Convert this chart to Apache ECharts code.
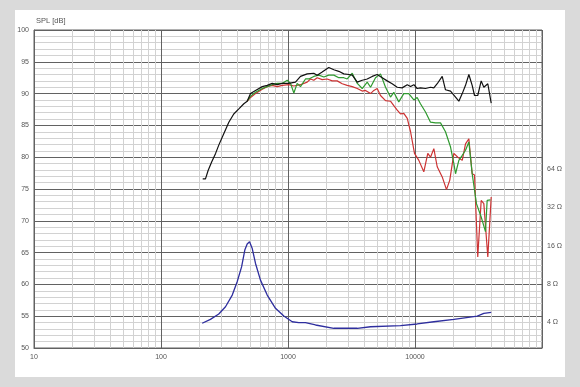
<!DOCTYPE html>
<html><head><meta charset="utf-8">
<script src="https://cdn.jsdelivr.net/npm/echarts@6/dist/echarts.min.js"></script>
<style>
html,body{margin:0;padding:0;background:#dadada;width:580px;height:387px;overflow:hidden;}
#panel{position:absolute;left:15px;top:10px;width:550px;height:367px;background:#fff;}
#chart{position:absolute;left:0;top:0;width:580px;height:387px;}
</style></head><body>
<div id="panel"></div><div id="chart"></div>
<script>
// ---- data ----
const freqLabels = [10, 100, 1000, 10000];
const minorFreqs = [];
[10, 100, 1000, 10000].forEach(d => { for (let k = 2; k <= 9; k++) minorFreqs.push(k * d); });
const impedanceTicks = [4, 8, 16, 32, 64];

// on-axis SPL [Hz, dB]
const splOnAxis = [[213,76.6],[224,76.6],[235,77.9],[250,79.2],[269,80.6],[285,81.9],[312,83.7],[342,85.5],[374,86.8],[410,87.6],[449,88.4],[477,88.8],[507,90.0],[555,90.5],[627,91.1],[686,91.3],[751,91.6],[822,91.4],[900,91.6],[1014,91.6],[1145,91.8],[1254,92.7],[1416,93.1],[1596,93.2],[1698,92.9],[1858,93.4],[2094,94.1],[2296,93.75],[2512,93.5],[2750,93.1],[3012,93.0],[3204,92.9],[3511,91.8],[3840,92.1],[4205,92.3],[4603,92.7],[5040,93.0],[5516,92.5],[6040,92.0],[6610,91.55],[7244,91.0],[7925,90.9],[8690,91.4],[9226,91.1],[9795,91.4],[10400,90.8],[11040,90.9],[12100,90.8],[13250,91.0],[14070,90.9],[14960,91.55],[16380,92.7],[17380,90.6],[19050,90.4],[20850,89.45],[22140,88.8],[23550,90.0],[24990,91.3],[26550,93.0],[28200,91.3],[29420,89.7],[31200,89.7],[33200,92.0],[34830,91.0],[37440,91.55],[39810,88.5]];

// off-axis (green) SPL [Hz, dB]
const splOff1 = [[477,88.8],[507,89.6],[555,90.2],[627,90.8],[686,91.1],[751,91.4],[822,91.6],[900,91.6],[986,92.1],[1047,91.6],[1112,90.1],[1181,91.6],[1254,91.1],[1373,92.3],[1459,92.3],[1596,92.7],[1750,92.9],[1916,92.6],[2094,92.9],[2296,92.9],[2512,92.5],[2750,92.5],[2924,92.3],[3204,93.2],[3511,91.6],[3840,90.8],[4205,91.8],[4467,91.0],[4887,92.5],[5350,93.1],[5860,91.0],[6412,89.45],[6810,90.2],[7450,88.7],[8160,90.0],[8930,90.0],[9795,89.0],[10400,89.4],[11040,88.4],[12100,87.1],[13250,85.5],[14500,85.4],[15880,85.4],[17380,84.0],[19050,81.6],[20230,79.0],[20850,77.4],[22140,79.5],[23550,80.3],[24990,81.1],[26550,82.4],[28200,77.4],[30480,72.7],[33200,70.6],[35890,68.3],[36990,73.2],[39280,73.3]];

// off-axis (red) SPL [Hz, dB]
const splOff2 = [[477,88.8],[507,89.4],[555,90.0],[627,90.7],[686,91.1],[751,91.3],[822,91.1],[900,91.3],[1014,91.4],[1112,91.2],[1254,91.4],[1416,91.8],[1503,92.3],[1596,92.1],[1698,92.5],[1858,92.2],[2037,92.3],[2229,92.0],[2440,92.0],[2673,91.55],[2924,91.3],[3204,91.1],[3511,90.8],[3840,90.4],[4076,90.5],[4467,90.0],[4742,90.5],[5040,90.8],[5350,89.7],[5860,88.9],[6412,88.8],[6810,88.1],[7244,87.4],[7690,86.8],[8160,86.9],[8690,86.1],[9226,84.0],[9910,80.6],[10720,79.5],[11730,77.7],[12610,80.6],[13250,80.0],[14070,81.35],[14960,78.5],[16380,76.9],[17700,74.9],[18790,76.4],[20230,80.6],[21740,80.0],[23550,79.5],[24990,82.1],[26550,82.9],[28200,77.4],[29420,77.2],[31200,64.3],[33200,73.2],[34830,72.7],[37440,64.3],[39810,73.75]];

// impedance [Hz, ohm]
const impedance = [[211,3.93],[245,4.22],[285,4.65],[322,5.30],[364,6.55],[398,8.33],[431,10.9],[457,14.8],[477,16.5],[498,17.2],[523,15.2],[555,11.6],[607,8.58],[686,6.55],[797,5.15],[927,4.48],[1079,4.04],[1216,3.97],[1373,3.97],[1648,3.81],[2296,3.59],[3511,3.59],[4467,3.69],[7690,3.76],[10400,3.88],[14070,4.04],[20230,4.22],[30900,4.48],[34830,4.70],[39810,4.79]];

// ---- chart ----
const toDb = z => 20 * Math.log10(z);
const FONT = 'Liberation Sans';
const labelStyle = { color: '#555', fontSize: 7, fontFamily: FONT };
const chart = echarts.init(document.getElementById('chart'), null, { renderer: 'canvas' });
chart.setOption({
  animation: false,
  title: { text: 'SPL [dB]', left: 31, top: 12, textStyle: { fontSize: 7.5, fontWeight: 'normal', color: '#555', fontFamily: FONT } },
  grid: { left: 34, top: 30, width: 508, height: 318, show: true, borderColor: '#626262', borderWidth: 1 },
  xAxis: [
    { type: 'log', logBase: 10, min: 10, max: 100000, position: 'bottom',
      axisLine: { show: true, lineStyle: { color: '#626262' } }, axisTick: { show: false },
      axisLabel: Object.assign({ margin: 6, formatter: v => freqLabels.indexOf(v) >= 0 ? String(v) : '' }, labelStyle),
      splitLine: { show: true, lineStyle: { color: '#626262', width: 1 } } },
    { type: 'log', logBase: 10, min: 10, max: 100000, position: 'bottom',
      axisLine: { show: false }, axisTick: { show: false, customValues: minorFreqs }, axisLabel: { show: false },
      splitLine: { show: true, lineStyle: { color: '#d2d2d2', width: 1 } } }
  ],
  yAxis: [
    { type: 'value', min: 50, max: 100, interval: 5,
      axisLine: { show: true, lineStyle: { color: '#626262' } }, axisTick: { show: false },
      axisLabel: Object.assign({ margin: 5 }, labelStyle),
      splitLine: { show: true, lineStyle: { color: '#626262', width: 1 } },
      minorTick: { show: false, splitNumber: 5 },
      minorSplitLine: { show: true, lineStyle: { color: '#d2d2d2', width: 1 } } },
    { type: 'value', position: 'right', min: 8, max: 58,
      axisLine: { show: false }, axisTick: { show: false }, splitLine: { show: false },
      axisLabel: Object.assign({ margin: 5, customValues: impedanceTicks.map(toDb),
        formatter: v => Math.round(Math.pow(10, v / 20)) + ' Ω' }, labelStyle) }
  ],
  series: [
    { type: 'line', name: 'red', data: splOff2, xAxisIndex: 0, yAxisIndex: 0, showSymbol: false, lineStyle: { color: '#cc3333', width: 1.2 } },
    { type: 'line', name: 'green', data: splOff1, xAxisIndex: 0, yAxisIndex: 0, showSymbol: false, lineStyle: { color: '#2f9a2f', width: 1.2 } },
    { type: 'line', name: 'black', data: splOnAxis, xAxisIndex: 0, yAxisIndex: 0, showSymbol: false, lineStyle: { color: '#111', width: 1.2 } },
    { type: 'line', name: 'imp', data: impedance.map(p => [p[0], toDb(p[1])]), xAxisIndex: 0, yAxisIndex: 1, showSymbol: false, lineStyle: { color: '#2e2e9e', width: 1.3 } }
  ]
});
</script></body></html>
